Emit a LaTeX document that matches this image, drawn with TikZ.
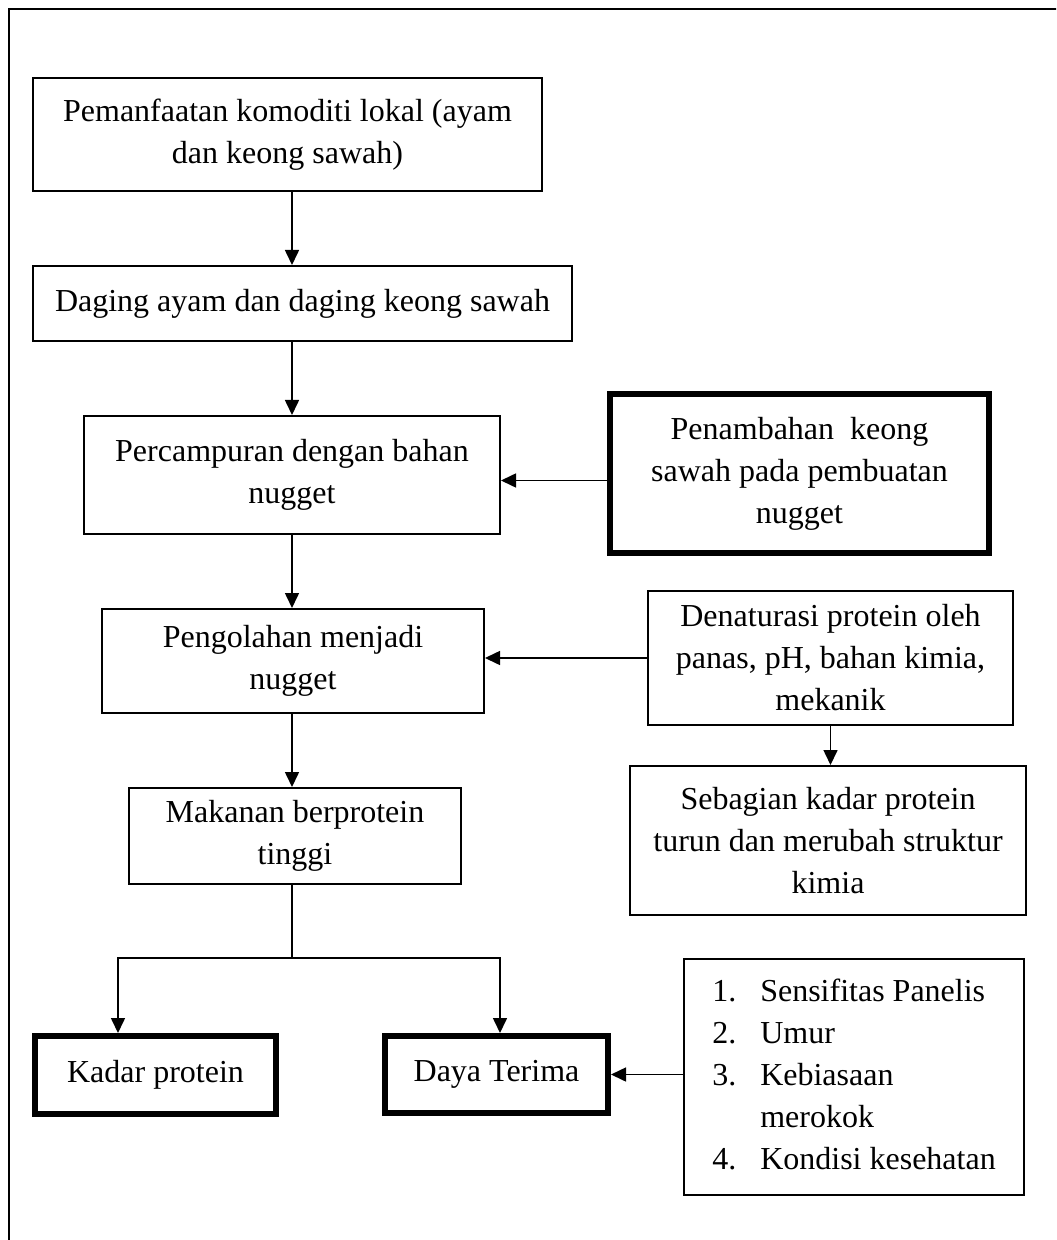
\documentclass[tikz,border=0pt]{standalone}
\usepackage{fontspec}
\setmainfont{Liberation Serif}
\usetikzlibrary{arrows.meta,positioning}

\begin{document}
\begin{tikzpicture}[
    x=0.5pt, y=-0.5pt,
    font=\fontsize{16}{21}\selectfont,
    box/.style={rectangle, draw, line width=1pt, align=center, inner sep=0pt},
    thickbox/.style={box, line width=3pt},
    wh/.style 2 args={minimum width=#1*0.5pt, minimum height=#2*0.5pt},
    arrow/.style={-{Triangle[length=7.5pt, width=7pt]}, line width=0.8pt},
    link/.style={line width=0.8pt}
]
\clip (0,0) rectangle (1056,1240);
\draw[line width=1pt] (9,9) rectangle (1090,1290);

% Left column
\node[box, wh={509}{113}] (pemanfaatan) at (287.5,134.5) {Pemanfaatan komoditi lokal (ayam\\dan keong sawah)};
\node[box, wh={539}{75}] (daging) at (302.5,303.5) {Daging ayam dan daging keong sawah};
\node[box, wh={416}{118}] (percampuran) at (292,475) {Percampuran dengan bahan\\nugget};
\node[box, wh={382}{104}] (pengolahan) at (293,661) {Pengolahan menjadi\\nugget};
\node[box, wh={332}{96}] (makanan) at (295,836) {Makanan berprotein\\tinggi};

% Right column
\node[thickbox, wh={379}{159}] (penambahan) at (799.5,473.5) {Penambahan\ \ keong\\sawah pada pembuatan\\nugget};
\node[box, wh={365}{134}] (denaturasi) at (830.5,658) {Denaturasi protein oleh\\panas, pH, bahan kimia,\\mekanik};
\node[box, wh={396}{149}] (sebagian) at (828,840.5) {Sebagian kadar protein\\turun dan merubah struktur\\kimia};

% Bottom row
\node[thickbox, wh={241}{78}] (kadar) at (155.5,1075) {Kadar protein};
\node[thickbox, wh={223}{77}] (daya) at (496.5,1074.5) {Daya Terima};
\node[box, wh={340}{236}] (faktor) at (854,1077) {%
  \begin{tabular}{@{}p{24pt}@{}l@{}}
  1. & Sensifitas Panelis\\
  2. & Umur\\
  3. & Kebiasaan\\
     & merokok\\
  4. & Kondisi kesehatan
  \end{tabular}};

\coordinate (spine) at (292,0);
\coordinate (split) at (292,958);
\coordinate (leftdrop) at (118,958);
\coordinate (rightdrop) at (500,958);

% Arrows
\draw[arrow] (pemanfaatan.south -| spine) -- (daging.north -| spine);
\draw[arrow] (daging.south -| spine) -- (percampuran.north -| spine);
\draw[arrow] (percampuran.south -| spine) -- (pengolahan.north -| spine);
\draw[arrow] (pengolahan.south -| spine) -- (makanan.north -| spine);
\draw[arrow] ([yshift=-3.5pt]penambahan.west) -- ([yshift=-3.5pt]penambahan.west -| percampuran.east);
\draw[arrow] (denaturasi.west) -- (denaturasi.west -| pengolahan.east);
\draw[arrow] (denaturasi.south) -- (sebagian.north -| denaturasi.south);
\draw[link] (makanan.south -| split) -- (split);
\draw[arrow] (split) -| (leftdrop |- kadar.north);
\draw[arrow] (split) -| (rightdrop |- daya.north);
\draw[arrow] (faktor.west |- daya.east) -- (daya.east);

\end{tikzpicture}
\end{document}
